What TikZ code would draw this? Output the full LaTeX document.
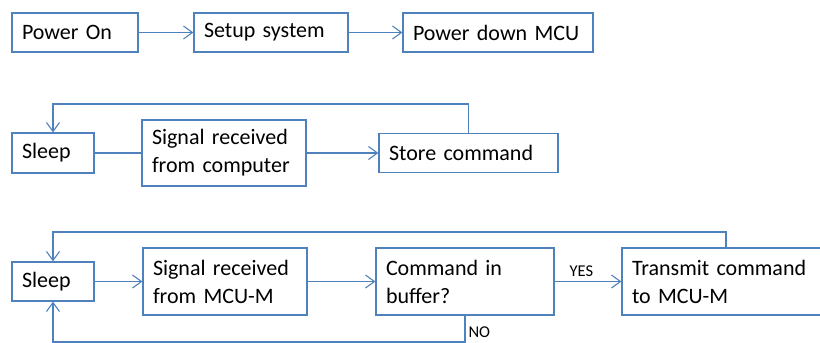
\documentclass[tikz,border=0pt]{standalone}
\usepackage{fontspec}
\setmainfont{Carlito}
\usetikzlibrary{arrows.meta}
\definecolor{flowblue}{RGB}{79,129,189}
\begin{document}
\begin{tikzpicture}[x=1pt,y=-1pt,
  box/.style={draw=flowblue, line width=1.2pt, inner xsep=10pt, inner ysep=0pt,
    align=left, font=\fontsize{22}{28}\selectfont, text=black},
  link/.style={draw=flowblue, line width=1.1pt},
  flow/.style={link, -{Straight Barb[length=9pt,width=13pt,line width=1.1pt]}},
  lbl/.style={font=\fontsize{16.5}{18}\selectfont, text=black, inner sep=1pt}]
  \path[use as bounding box, clip] (0,0) rectangle (820,343);

  % start-up sequence
  \node[box, text width=106pt, minimum height=39pt] (pon)   at (75,32.5)  {Power On};
  \node[box, text width=134pt, minimum height=39pt] (setup) at (271,32.5) {Setup system};
  \node[box, text width=170pt, minimum height=39pt] (pdown) at (498,32.5) {Power down MCU};
  \draw[flow] (pon) -- (setup);
  \draw[flow] (setup) -- (pdown);

  % command reception from the computer
  \node[box, text width=62pt,  minimum height=40pt] (sleepA) at (53,153)    {Sleep};
  \node[box, text width=144pt, minimum height=66pt] (sigA)   at (224,153)   {Signal received\\from computer};
  \node[box, text width=159pt, minimum height=39pt] (store)  at (468.5,153) {Store command};
  \coordinate (loopA) at (0,104);
  \draw[link] (sleepA) -- (sigA);
  \draw[flow] (sigA) -- (store);
  \draw[flow] (store.north) -- (store.north |- loopA) -| (sleepA.north);

  % command forwarding to MCU-M
  \node[box, text width=62pt,  minimum height=39pt] (sleepB) at (53,281.5)  {Sleep};
  \node[box, text width=144pt, minimum height=67pt] (sigB)   at (225,281.5) {Signal received\\from MCU-M};
  \node[box, text width=158pt, minimum height=67pt] (cmd)    at (465,281.5) {Command in\\buffer?};
  \node[box, text width=188pt, minimum height=67pt] (tx)     at (726,281.5) {Transmit command\\to MCU-M};
  \coordinate (loopB) at (0,232);
  \coordinate (loopC) at (0,342);
  \draw[flow] (sleepB) -- (sigB);
  \draw[flow] (sigB) -- (cmd);
  \draw[flow] (cmd) -- node[lbl, above=3pt, pos=0.4] {YES} (tx);
  \draw[flow] (tx.north) -- (tx.north |- loopB) -| (sleepB.north);
  \draw[flow] (cmd.south) -- node[lbl, anchor=west, pos=0.63, xshift=2pt] {NO} (cmd.south |- loopC) -| (sleepB.south);
\end{tikzpicture}
\end{document}
